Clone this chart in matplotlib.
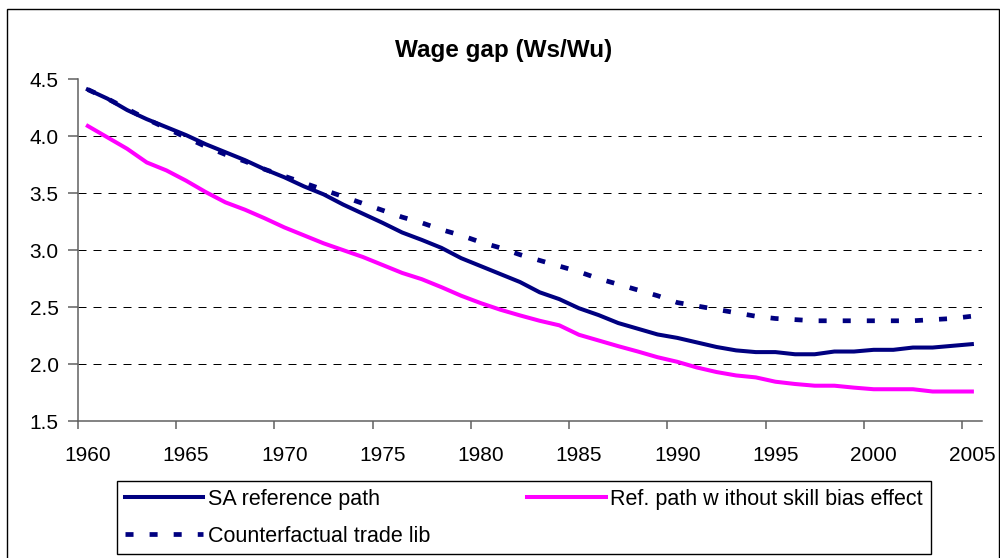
import matplotlib
matplotlib.use("Agg")
import matplotlib.pyplot as plt
from matplotlib.patches import Rectangle

years = list(range(1960, 2006))

sa_reference = [4.41, 4.33, 4.23, 4.15, 4.08, 4.01, 3.93, 3.86, 3.79, 3.71,
                3.64, 3.56, 3.49, 3.40, 3.32, 3.24, 3.155, 3.09, 3.02, 2.93,
                2.86, 2.79, 2.72, 2.63, 2.57, 2.49, 2.43, 2.36, 2.31, 2.26,
                2.23, 2.19, 2.15, 2.12, 2.105, 2.105, 2.086, 2.086, 2.11, 2.11,
                2.125, 2.125, 2.145, 2.145, 2.16, 2.175]

ref_no_skill_bias = [4.09, 3.99, 3.89, 3.77, 3.70, 3.61, 3.51, 3.42, 3.355, 3.28,
                     3.20, 3.13, 3.06, 3.00, 2.94, 2.87, 2.80, 2.745, 2.675, 2.60,
                     2.535, 2.477, 2.427, 2.38, 2.34, 2.257, 2.207, 2.157, 2.11, 2.06,
                     2.02, 1.97, 1.93, 1.90, 1.883, 1.845, 1.825, 1.81, 1.81, 1.793,
                     1.779, 1.779, 1.779, 1.759, 1.759, 1.759]

counterfactual = [4.41, 4.33, 4.24, 4.15, 4.07, 3.99, 3.91, 3.84, 3.78, 3.71,
                  3.65, 3.59, 3.53, 3.47, 3.41, 3.35, 3.29, 3.24, 3.18, 3.13,
                  3.07, 3.02, 2.96, 2.91, 2.86, 2.81, 2.75, 2.70, 2.65, 2.60,
                  2.54, 2.51, 2.48, 2.45, 2.42, 2.40, 2.39, 2.38, 2.38, 2.38,
                  2.38, 2.38, 2.38, 2.39, 2.40, 2.42]

y_ticks = [1.5, 2.0, 2.5, 3.0, 3.5, 4.0, 4.5]
y_tick_labels = ["1.5", "2.0", "2.5", "3.0", "3.5", "4.0", "4.5"]
x_label_years = years[::5]

title = "Wage gap (Ws/Wu)"
labels = ["SA reference path", "Ref. path w ithout skill bias effect", "Counterfactual trade lib"]

plt.rcParams['font.family'] = ['Liberation Sans', 'DejaVu Sans']

fig = plt.figure(figsize=(10, 5.58), dpi=100)
ax = fig.add_axes([0.078, 0.2455, 0.9037, 0.6124])

navy = '#000080'
magenta = '#FF00FF'

l1, = ax.plot(years, sa_reference, color=navy, lw=2.9, solid_joinstyle='round', zorder=3)
l2, = ax.plot(years, ref_no_skill_bias, color=magenta, lw=2.9, solid_joinstyle='round', zorder=3)
l3, = ax.plot(years, counterfactual, color=navy, lw=3.4, linestyle=(0, (1.7, 3.4)),
              dash_capstyle='butt', zorder=3)

ax.set_xlim(years[0] - 0.5, years[-1] + 0.5)
ax.set_ylim(y_ticks[0], y_ticks[-1])

ax.set_yticks(y_ticks)
ax.set_yticklabels(y_tick_labels)
ax.set_xticks(x_label_years)
ax.set_xticklabels([str(y) for y in x_label_years])
ax.set_xticks([y - 0.5 for y in x_label_years], minor=True)

ax.tick_params(axis='x', which='major', length=0, pad=18, labelsize=15)
ax.tick_params(axis='x', which='minor', length=6, width=1.1, color='#606060', direction='out')
ax.tick_params(axis='y', which='major', length=7, width=1.1, color='#606060', pad=7, labelsize=15)

for s in ['top', 'right']:
    ax.spines[s].set_visible(False)
for s in ['left', 'bottom']:
    ax.spines[s].set_color('#606060')
    ax.spines[s].set_linewidth(1.1)

ax.yaxis.grid(True, color='black', linewidth=0.72, linestyle=(0, (8, 7)))
for gl, v in zip(ax.get_ygridlines(), y_ticks):
    if v in (y_ticks[0], y_ticks[-1]):
        gl.set_visible(False)

fig.text(0.504, 1 - 56.7 / 558, title, ha='center', va='baseline',
         fontsize=17.5, fontweight='bold')

leg = fig.legend([l1, l3, l2], [labels[0], labels[2], labels[1]], ncol=2,
                 loc='upper left', bbox_to_anchor=(0.117, 1 - 481 / 558),
                 bbox_transform=fig.transFigure, borderaxespad=0,
                 fontsize=15.5, handlelength=3.65, handletextpad=0.22,
                 columnspacing=4.5, labelspacing=0.75, borderpad=0.35,
                 frameon=True, fancybox=False, framealpha=1)
leg.get_frame().set_edgecolor('black')
leg.get_frame().set_linewidth(1.0)

fig.patches.append(Rectangle((0.0073, -0.02), 0.9917, 1.004, transform=fig.transFigure,
                             fill=False, edgecolor='black', linewidth=1.0))

fig.savefig('out.png', dpi=100)
